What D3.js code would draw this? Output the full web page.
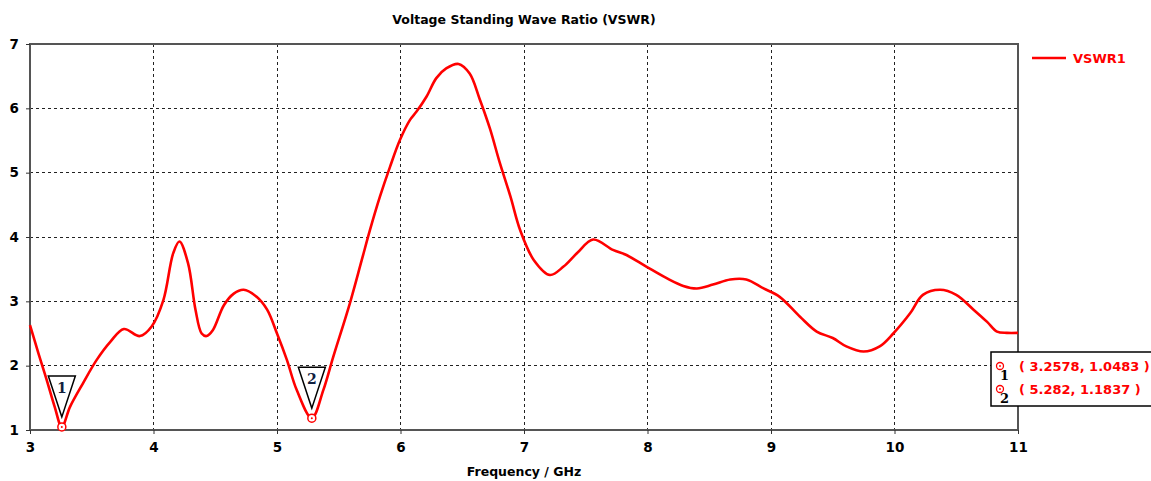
<!DOCTYPE html>
<html>
<head>
<meta charset="utf-8">
<script src="https://cdn.jsdelivr.net/npm/d3@7"></script>
<style>
	body { margin: 0; background: #fff; }
	text { font-family: "DejaVu Sans", Verdana, sans-serif; }
</style>
</head>
<body>
<div id="chart"></div>
<script>
// Curve samples (GHz, VSWR)
var freqs = [3.0, 3.067, 3.135, 3.2, 3.2578, 3.324, 3.43, 3.54, 3.65, 3.76, 3.89, 3.985, 4.08, 4.16, 4.21, 4.28, 4.34, 4.39, 4.43, 4.48,
	4.57, 4.65, 4.73, 4.835, 4.92, 5.0, 5.08, 5.16, 5.282, 5.375, 5.456, 5.59, 5.686, 5.753, 5.834, 5.915, 5.996, 6.077, 6.13, 6.21,
	6.29, 6.37, 6.47, 6.56, 6.64, 6.725, 6.8, 6.89, 6.97, 7.08, 7.21, 7.32, 7.43, 7.56, 7.72, 7.83, 7.99, 8.155, 8.29, 8.4,
	8.53, 8.67, 8.8, 8.94, 9.07, 9.235, 9.37, 9.5, 9.61, 9.75, 9.88, 9.99, 10.125, 10.23, 10.37, 10.5, 10.64, 10.75, 10.83, 10.91, 11.0];
var vswr = [2.63, 2.2, 1.78, 1.36, 1.0483, 1.36, 1.73, 2.09, 2.37, 2.57, 2.46, 2.61, 3.02, 3.75, 3.93, 3.59, 2.87, 2.5, 2.46, 2.55,
	2.94, 3.12, 3.18, 3.07, 2.87, 2.5, 2.09, 1.62, 1.1837, 1.62, 2.14, 2.97, 3.64, 4.11, 4.63, 5.09, 5.51, 5.82, 5.95, 6.18,
	6.47, 6.62, 6.69, 6.54, 6.15, 5.68, 5.18, 4.63, 4.1, 3.64, 3.41, 3.54, 3.75, 3.96, 3.8, 3.72, 3.54, 3.36, 3.24, 3.2,
	3.26, 3.34, 3.34, 3.2, 3.07, 2.76, 2.53, 2.43, 2.3, 2.22, 2.3, 2.5, 2.81, 3.1, 3.18, 3.1, 2.87, 2.68, 2.53, 2.51, 2.51];

var xTicks = [3, 4, 5, 6, 7, 8, 9, 10, 11];
var yTicks = [1, 2, 3, 4, 5, 6, 7];

var markerIds = ["1", "2"];
var markerFreqs = [3.2578, 5.282];
var markerVals = [1.0483, 1.1837];
var markerLabels = ["( 3.2578, 1.0483 )", "( 5.282, 1.1837 )"];

var seriesName = "VSWR1";
var title = "Voltage Standing Wave Ratio (VSWR)";
var xTitle = "Frequency / GHz";

var margin = {left: 30, top: 44, right: 133, bottom: 51};
var width = 1151 - margin.left - margin.right;
var height = 481 - margin.top - margin.bottom;

var svg = d3.select("#chart").append("svg")
	.attr("width", 1151)
	.attr("height", 481);

var g = svg.append("g")
	.attr("transform", "translate(" + margin.left + "," + margin.top + ")");

var xScale = d3.scaleLinear().domain([3, 11]).range([0, width]);
var yScale = d3.scaleLinear().domain([1, 7]).range([height, 0]);

// Grid lines:
g.append("g").selectAll("line")
	.data(xTicks.slice(1, -1))
	.enter().append("line")
	.attr("x1", function(d){ return xScale(d); })
	.attr("x2", function(d){ return xScale(d); })
	.attr("y1", 0).attr("y2", height)
	.attr("stroke", "#222").attr("stroke-width", 1)
	.attr("stroke-dasharray", "3,3")
	.attr("shape-rendering", "crispEdges");

g.append("g").selectAll("line")
	.data(yTicks.slice(1, -1))
	.enter().append("line")
	.attr("x1", 0).attr("x2", width)
	.attr("y1", function(d){ return yScale(d); })
	.attr("y2", function(d){ return yScale(d); })
	.attr("stroke", "#222").attr("stroke-width", 1)
	.attr("stroke-dasharray", "3,3")
	.attr("shape-rendering", "crispEdges");

// Frame:
g.append("rect")
	.attr("x", 0).attr("y", 0)
	.attr("width", width).attr("height", height)
	.attr("fill", "none")
	.attr("stroke", "#555")
	.attr("stroke-width", 1.5)
	.attr("shape-rendering", "crispEdges");

// Axes:
var xAxisCall = d3.axisBottom(xScale).tickValues(xTicks).tickSize(4).tickPadding(8).tickFormat(d3.format("d"));
var yAxisCall = d3.axisLeft(yScale).tickValues(yTicks).tickSize(4).tickPadding(7).tickFormat(d3.format("d"));

var xAxis = g.append("g")
	.attr("transform", "translate(0," + height + ")")
	.call(xAxisCall);
var yAxis = g.append("g").call(yAxisCall);

[xAxis, yAxis].forEach(function(a){
	a.select(".domain").remove();
	a.selectAll("line").attr("stroke", "#333");
	a.selectAll("text")
		.attr("fill", "#000")
		.style("font-size", "13.5px")
		.style("font-weight", "bold")
		.style("font-family", "'DejaVu Sans', sans-serif");
});

// Titles:
svg.append("text")
	.attr("x", margin.left + width / 2)
	.attr("y", 24)
	.attr("text-anchor", "middle")
	.attr("font-size", "12.5px")
	.attr("font-weight", "bold")
	.text(title);

svg.append("text")
	.attr("x", margin.left + width / 2)
	.attr("y", 476)
	.attr("text-anchor", "middle")
	.attr("font-size", "12.5px")
	.attr("font-weight", "bold")
	.text(xTitle);

// The curve:
var lineData = freqs.map(function(f, i){ return [f, vswr[i]]; });
var line = d3.line()
	.x(function(d){ return xScale(d[0]); })
	.y(function(d){ return yScale(d[1]); })
	.curve(d3.curveCatmullRom.alpha(0.5));

g.append("path")
	.datum(lineData)
	.attr("d", line)
	.attr("fill", "none")
	.attr("stroke", "#ff0000")
	.attr("stroke-width", 2.6)
	.attr("stroke-linejoin", "round");

// Markers on the curve:
var markers = g.append("g").selectAll("g")
	.data(markerIds)
	.enter().append("g")
	.attr("transform", function(d, i){
		return "translate(" + xScale(markerFreqs[i]) + "," + yScale(markerVals[i]) + ")";
	});

markers.append("path")
	.attr("d", "M0,-10 L-13.5,-51 L13.5,-51 Z")
	.attr("fill", "#fff")
	.attr("stroke", "#000")
	.attr("stroke-width", 1.5);

markers.append("text")
	.attr("x", 0).attr("y", -34)
	.attr("text-anchor", "middle")
	.attr("font-size", "14px")
	.attr("font-weight", "bold")
	.style("font-family", "'DejaVu Serif', serif")
	.attr("fill", "#102040")
	.text(function(d){ return d; });

markers.append("circle")
	.attr("r", 4).attr("fill", "#fff")
	.attr("stroke", "#ff0000").attr("stroke-width", 1.5);
markers.append("circle")
	.attr("r", 1).attr("fill", "#ff0000");

// Legend:
var legendX = margin.left + width + 14;
svg.append("line")
	.attr("x1", legendX).attr("x2", legendX + 34)
	.attr("y1", 58).attr("y2", 58)
	.attr("stroke", "#ff0000").attr("stroke-width", 2.6);
svg.append("text")
	.attr("x", legendX + 41).attr("y", 63)
	.attr("font-size", "13px")
	.attr("font-weight", "bold")
	.attr("fill", "#ff0000")
	.text(seriesName);

// Marker readout box:
var box = svg.append("g").attr("transform", "translate(991,352)");
box.append("rect")
	.attr("x", 0).attr("y", 0)
	.attr("width", 170).attr("height", 54)
	.attr("fill", "#fff")
	.attr("stroke", "#000")
	.attr("stroke-width", 1.5);

var rows = box.selectAll("g.row")
	.data(markerIds)
	.enter().append("g")
	.attr("class", "row")
	.attr("transform", function(d, i){ return "translate(0," + (14 + i * 23) + ")"; });

rows.append("circle")
	.attr("cx", 9).attr("cy", 0).attr("r", 3.5)
	.attr("fill", "#fff").attr("stroke", "#ff0000").attr("stroke-width", 1.3);
rows.append("circle")
	.attr("cx", 9).attr("cy", 0).attr("r", 0.9)
	.attr("fill", "#ff0000");
rows.append("text")
	.attr("x", 9).attr("y", 14)
	.attr("font-size", "13px")
	.attr("font-weight", "bold")
	.style("font-family", "'DejaVu Serif', serif")
	.attr("fill", "#000")
	.text(function(d){ return d; });
rows.append("text")
	.attr("x", 28).attr("y", 5)
	.attr("font-size", "13px")
	.attr("font-weight", "bold")
	.attr("fill", "#ff0000")
	.text(function(d, i){ return markerLabels[i]; });
</script>
</body>
</html>
